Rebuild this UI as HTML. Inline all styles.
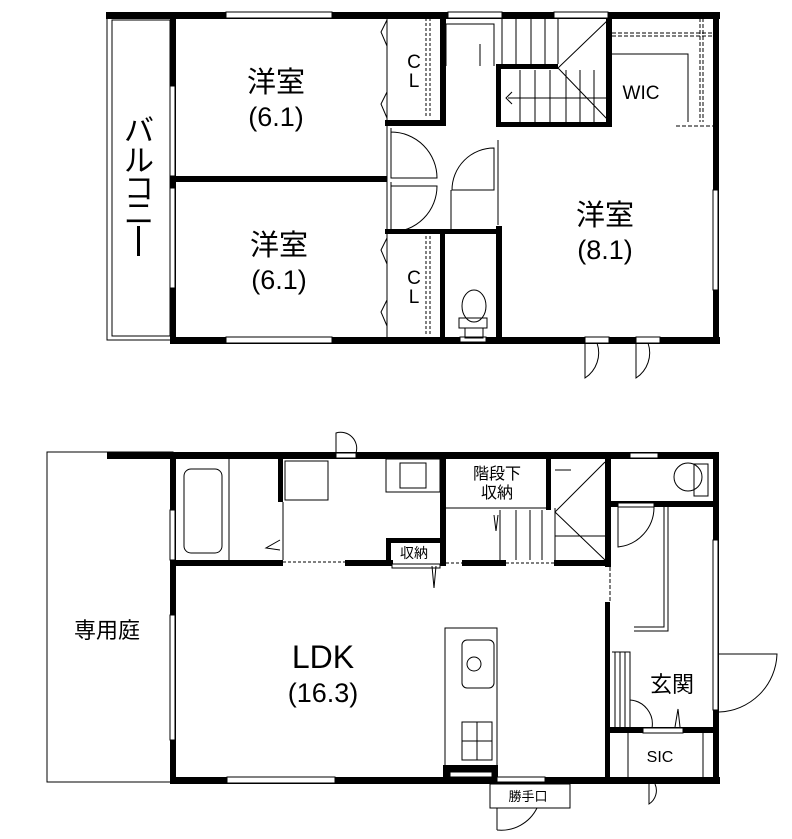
<!DOCTYPE html>
<html><head><meta charset="utf-8"><style>
html,body{margin:0;padding:0;background:#fff}
svg{display:block}
text{font-family:"Liberation Sans","Noto Sans CJK JP",sans-serif;fill:#000}
</style></head><body>
<svg width="792" height="839" viewBox="0 0 792 839" xmlns="http://www.w3.org/2000/svg">
<g fill="none" stroke="#000" stroke-width="1">
<rect x="107" y="17" width="66" height="323"/>
<rect x="112" y="20" width="58" height="316"/>
</g>
<g fill="#000">
<rect x="106" y="12" width="614" height="7"/>
<rect x="170" y="12" width="6" height="332"/>
<rect x="170" y="337" width="550" height="7"/>
<rect x="713" y="12" width="6" height="332"/>
<rect x="173" y="176" width="214" height="6"/>
<rect x="385" y="120" width="60" height="6"/>
<rect x="440" y="12" width="6" height="114"/>
<rect x="385" y="229" width="113" height="5"/>
<rect x="440" y="229" width="5" height="112"/>
<rect x="496" y="64" width="5" height="62"/>
<rect x="496" y="64" width="62" height="5"/>
<rect x="496" y="122" width="116" height="5"/>
<rect x="606" y="12" width="6" height="114"/>
<rect x="496" y="226" width="6" height="115"/>
</g>
<g fill="#fff" stroke="#000" stroke-width="1">
<rect x="226" y="12" width="106" height="6"/>
<rect x="226" y="337" width="106" height="6"/>
<rect x="448" y="12" width="54" height="6"/>
<rect x="554" y="12" width="54" height="6"/>
<rect x="170" y="86" width="5" height="90"/>
<rect x="170" y="188" width="5" height="100"/>
<rect x="713" y="190" width="5" height="100"/>
<rect x="460" y="337" width="26" height="5"/>
<rect x="585" y="337" width="24" height="6"/>
<rect x="636" y="337" width="24" height="6"/>
</g>
<g fill="none" stroke="#000" stroke-width="1">
<line x1="387" y1="18" x2="387" y2="337"/>
<path d="M387 20 l-6 12 6 14 M387 92 l-6 12 6 14 M387 238 l-6 12 6 14 M387 300 l-6 12 6 14"/>
<path d="M426 18 v100 M430 18 v100 M426 236 v100 M430 236 v100" stroke-dasharray="3,2"/>
<path d="M391 128 v50 h46 a46 46 0 0 0 -46 -46 M391 182 v50 a46 46 0 0 0 46 -46 h-46"/>
<path d="M494 190 h-42 a42 42 0 0 1 42 -42 z M451 190 v40"/>
<line x1="498" y1="140" x2="498" y2="225"/>
<path d="M446 66 v-42 h48 v42 M480 66 v-22 M502 18 v48 M516 18 v48 M531 18 v48 M545 18 v48 M558 18 v46 M608 20 l-50 48 50 52 M508 98 h100 M520 70 v52 M535 70 v52 M550 70 v52 M566 70 v52 M580 70 v52 M594 70 v52 M512 92 l-6 6 6 6"/>
<path d="M612 33 h102 M612 36 h102 M700 18 v104 M703 18 v104 M676 126 h38" stroke-dasharray="4,2"/>
<path d="M612 54 h76 v68"/>
<path d="M585 343 v35 a30 30 0 0 0 12 -35 M636 343 v35 a30 30 0 0 0 12 -35"/>
<ellipse cx="474" cy="306" rx="12" ry="16"/>
<rect x="459" y="318" width="28" height="10"/>
<rect x="465" y="328" width="18" height="10"/>
</g>
<text x="276" y="92" font-size="29" text-anchor="middle">洋室</text>
<text x="276" y="126" font-size="27" text-anchor="middle">(6.1)</text>
<text x="279" y="255" font-size="29" text-anchor="middle">洋室</text>
<text x="279" y="289" font-size="27" text-anchor="middle">(6.1)</text>
<text x="605" y="225" font-size="29" text-anchor="middle">洋室</text>
<text x="605" y="259" font-size="27" text-anchor="middle">(8.1)</text>
<text x="414" y="68" font-size="19" text-anchor="middle">C</text>
<text x="414" y="87" font-size="19" text-anchor="middle">L</text>
<text x="414" y="284" font-size="19" text-anchor="middle">C</text>
<text x="414" y="303" font-size="19" text-anchor="middle">L</text>
<text x="641" y="99" font-size="19" text-anchor="middle">WIC</text>
<text x="139" y="141" font-size="30" text-anchor="middle">バ</text>
<text x="139" y="171" font-size="30" text-anchor="middle">ル</text>
<text x="139" y="199" font-size="30" text-anchor="middle">コ</text>
<text x="139" y="224" font-size="30" text-anchor="middle">ニ</text>
<rect x="137" y="226" width="3" height="30" fill="#000"/>

<g fill="none" stroke="#000" stroke-width="1">
<rect x="47" y="452" width="126" height="330"/>
</g>
<g fill="#000">
<rect x="107" y="452" width="612" height="7"/>
<rect x="170" y="452" width="6" height="332"/>
<rect x="170" y="777" width="440" height="7"/>
<rect x="606" y="777" width="114" height="7"/>
<rect x="713" y="452" width="6" height="332"/>
<rect x="173" y="560" width="110" height="6"/>
<rect x="345" y="560" width="48" height="6"/>
<rect x="278" y="452" width="5" height="50"/>
<rect x="386" y="538" width="60" height="5"/>
<rect x="386" y="538" width="5" height="28"/>
<rect x="440" y="452" width="6" height="114"/>
<rect x="546" y="452" width="5" height="58"/>
<rect x="554" y="560" width="56" height="6"/>
<rect x="462" y="560" width="44" height="6"/>
<rect x="605" y="452" width="6" height="115"/>
<rect x="605" y="602" width="5" height="180"/>
<rect x="610" y="501" width="109" height="6"/>
<rect x="605" y="727" width="114" height="6"/>
<rect x="443" y="765" width="55" height="15"/>
</g>
<g fill="#fff" stroke="#000" stroke-width="1">
<rect x="336" y="453" width="20" height="5"/>
<rect x="630" y="453" width="28" height="5"/>
<rect x="170" y="510" width="5" height="50"/>
<rect x="170" y="615" width="5" height="125"/>
<rect x="227" y="777" width="108" height="6"/>
<rect x="497" y="777" width="48" height="5"/>
<rect x="713" y="540" width="5" height="170"/>
<rect x="618" y="503" width="36" height="4"/>
<rect x="643" y="728" width="40" height="5"/>
<rect x="392" y="564" width="48" height="4"/>
<rect x="450" y="772" width="42" height="5"/>
<rect x="490" y="784" width="80" height="24"/>
</g>
<g fill="none" stroke="#000" stroke-width="1">
<line x1="283" y1="502" x2="283" y2="560"/>
<rect x="184" y="469" width="38" height="84" rx="7"/>
<line x1="229" y1="459" x2="229" y2="560"/>
<path d="M280 540 l-14 8 14 2"/>
<rect x="285" y="461" width="43" height="39"/>
<rect x="386" y="459" width="54" height="33"/>
<rect x="400" y="463" width="26" height="25"/>
<path d="M283 562 h62" stroke-dasharray="3,2"/>
<path d="M446 563 h16 M506 563 h48" stroke-dasharray="3,2"/>
<path d="M436 566 l-2 22 -2 -22"/>
<path d="M446 508 h100 M500 510 v50 M516 510 v50 M530 510 v50 M542 510 v50 M555 508 v52 M555 536 h50 M605 462 l-50 50 50 48 M555 470 h16 M498 515 l-2 16 -2 -16"/>
<line x1="610" y1="567" x2="610" y2="602" stroke-dasharray="4,2"/>
<path d="M618 507 v40 a40 40 0 0 0 36 -40"/>
<path d="M664 507 v120 h-30 M668 507 v124 h-34"/>
<path d="M612 652 h18 v76 M615 652 v76 M620 652 v76 M625 652 v76"/>
<path d="M630 700 a24 24 0 0 1 22 28"/>
<path d="M680 727 l-2 -18 -3 18"/>
<path d="M628 733 v44 M703 733 v44"/>
<path d="M719 654 h58 a60 60 0 0 1 -58 58"/>
<path d="M649 784 v20 a16 16 0 0 0 6 -20 M336 453 v-20 a16 16 0 0 1 20 20"/>
<path d="M537 808 a40 40 0 0 1 -40 22 M497 808 v22"/>
<ellipse cx="688" cy="477" rx="14" ry="14"/>
<rect x="694" y="464" width="14" height="32"/>
<rect x="445" y="628" width="52" height="138"/>
<rect x="462" y="640" width="32" height="48" rx="5"/>
<circle cx="474" cy="664" r="7"/>
<rect x="462" y="722" width="30" height="38"/>
<path d="M462 741 h30 M477 722 v38"/>
</g>
<text x="323" y="668" font-size="32" text-anchor="middle">LDK</text>
<text x="323" y="702" font-size="27" text-anchor="middle">(16.3)</text>
<text x="107" y="638" font-size="22" text-anchor="middle">専用庭</text>
<text x="672" y="692" font-size="22" text-anchor="middle">玄関</text>
<text x="660" y="762" font-size="16" text-anchor="middle" fill="#333">SIC</text>
<text x="497" y="479" font-size="16" text-anchor="middle">階段下</text>
<text x="497" y="498" font-size="16" text-anchor="middle">収納</text>
<text x="414" y="558" font-size="14" text-anchor="middle">収納</text>
<text x="528" y="801" font-size="13" text-anchor="middle">勝手口</text>
</svg>
</body></html>
